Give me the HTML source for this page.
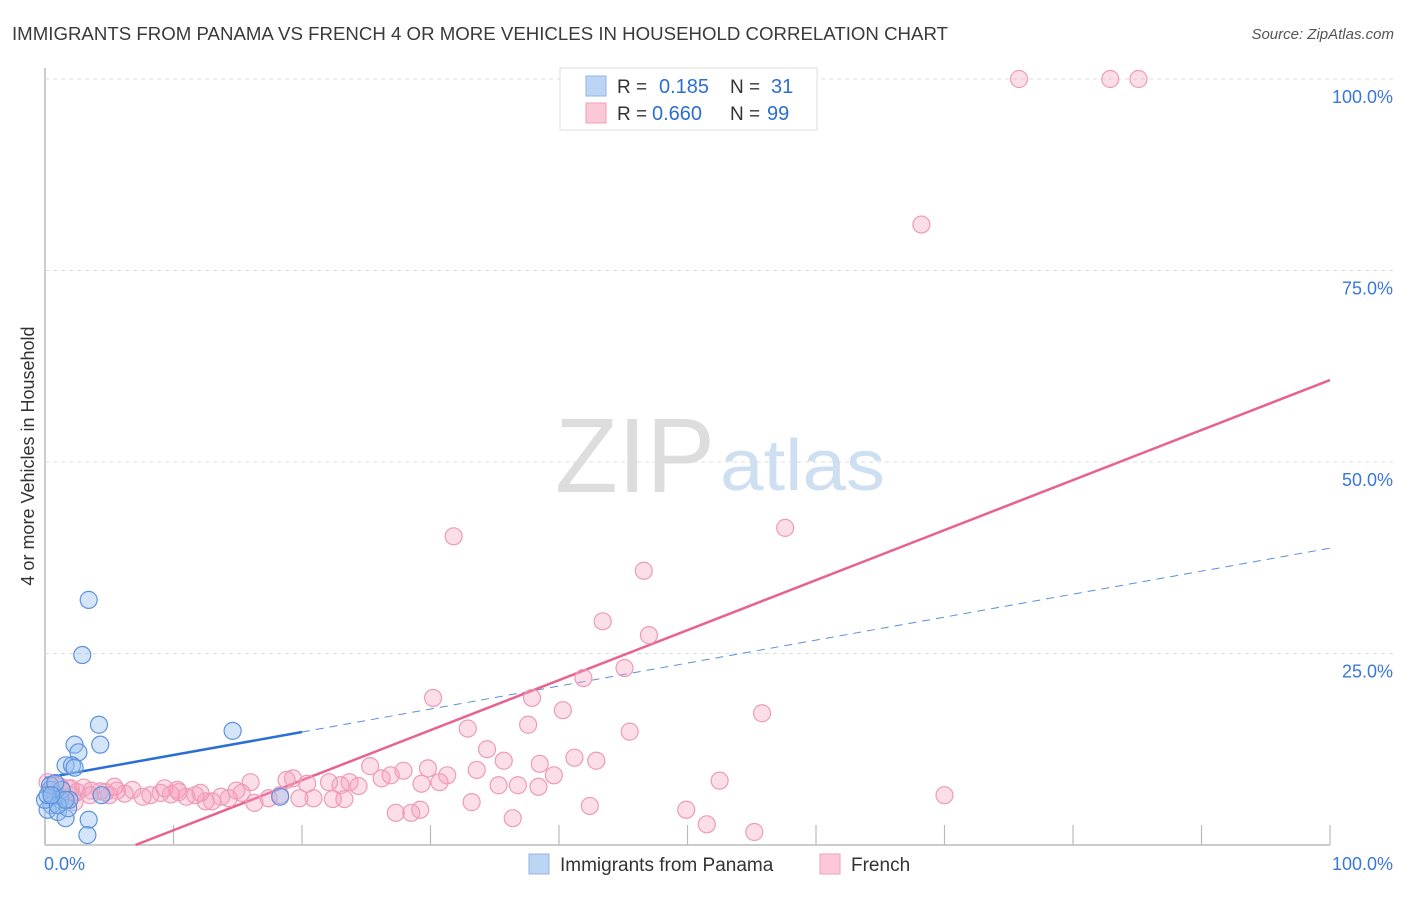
<!DOCTYPE html>
<html><head><meta charset="utf-8"><style>
body{margin:0;background:#fff;font-family:"Liberation Sans",sans-serif;}
svg text{font-family:"Liberation Sans",sans-serif;}
</style></head><body>
<svg id="chart" width="1406" height="892" xmlns="http://www.w3.org/2000/svg">
<text x="12" y="40" font-size="18.5" fill="#3a3a3a" textLength="936" lengthAdjust="spacingAndGlyphs">IMMIGRANTS FROM PANAMA VS FRENCH 4 OR MORE VEHICLES IN HOUSEHOLD CORRELATION CHART</text>
<text x="1394" y="39" font-size="15" fill="#555" font-style="italic" text-anchor="end">Source: ZipAtlas.com</text>
<text transform="translate(34,456) rotate(-90)" font-size="18" fill="#333" text-anchor="middle">4 or more Vehicles in Household</text>
<g id="grid"></g>
<text x="715" y="492" font-size="106" fill="#ddd" font-family="Liberation Serif" text-anchor="end" textLength="160" lengthAdjust="spacingAndGlyphs">ZIP</text>
<text x="720" y="490" font-size="72" fill="#cfdff2" textLength="165" lengthAdjust="spacingAndGlyphs">atlas</text>
<g id="lines"></g>
<g id="pts"></g>
<g>
<rect x="560" y="68" width="257" height="62" fill="#fff" stroke="#ddd"/>
<rect x="586" y="76" width="20" height="20" fill="#bcd5f5" stroke="#8fb4e6"/>
<rect x="586" y="103" width="20" height="20" fill="#fbc8d8" stroke="#f0a0bb"/>
<text x="617" y="93" font-size="19" fill="#333">R =</text>
<text x="659" y="93" font-size="20" fill="#2b6fd1">0.185</text>
<text x="730" y="93" font-size="19" fill="#333">N =</text>
<text x="771" y="93" font-size="20" fill="#2b6fd1">31</text>
<text x="617" y="120" font-size="19" fill="#333">R =</text>
<text x="652" y="120" font-size="20" fill="#2b6fd1">0.660</text>
<text x="730" y="120" font-size="19" fill="#333">N =</text>
<text x="767" y="120" font-size="20" fill="#2b6fd1">99</text>
</g>
<g>
<rect x="529" y="854" width="20" height="20" fill="#bcd5f5" stroke="#8fb4e6"/>
<text x="560" y="871" font-size="19" fill="#333">Immigrants from Panama</text>
<rect x="820" y="854" width="20" height="20" fill="#fbc8d8" stroke="#f0a0bb"/>
<text x="851" y="871" font-size="19" fill="#333">French</text>
</g>
</svg>
<script>
const xTicks=[0,10,20,30,40,50,60,70,80,90,100];
const yTicks=[25,50,75,100];
const yTickLabels=["25.0%","50.0%","75.0%","100.0%"];
const xEndLabels=["0.0%","100.0%"];
const panamaX=[3.4,2.9,4.2,4.3,2.3,2.6,1.6,2.1,2.3,14.6,0.4,0.8,1.2,0.5,0.2,1.0,1.6,3.4,3.3,18.3,4.4,1.8,0.0,0.4,1.3,1.9,0.8,0.2,1.0,1.6,0.5];
const panamaY=[32.0,24.8,15.7,13.1,13.1,12.1,10.4,10.4,10.1,14.9,7.2,6.5,5.9,5.2,4.6,4.3,3.5,3.3,1.3,6.3,6.5,4.8,5.9,7.8,7.2,5.9,8.1,6.5,5.2,5.9,6.5];
const frenchX=[75.8,82.9,85.1,68.2,31.8,57.6,46.6,43.4,47.0,45.1,41.9,30.2,37.9,37.6,40.3,32.9,45.5,55.8,34.4,35.7,41.2,42.9,38.5,25.3,27.9,29.8,31.3,33.6,39.6,52.5,70.0,35.3,36.8,38.4,29.3,30.7,23.7,23.0,22.1,19.3,18.8,16.0,20.4,20.9,22.4,23.3,24.4,26.2,26.9,29.2,27.3,28.5,33.2,36.4,42.4,49.9,51.5,55.2,19.8,18.3,17.4,16.3,15.3,14.3,13.7,13.0,12.5,11.7,11.0,10.4,9.8,9.0,8.2,7.6,6.8,6.2,5.6,5.0,4.3,3.6,3.0,2.5,1.8,1.2,0.8,0.2,0.5,1.0,1.6,2.1,2.3,3.5,4.7,5.4,9.3,12.1,14.9,10.3,2.0];
const frenchY=[100,100,100,81.0,40.3,41.4,35.8,29.2,27.4,23.1,21.8,19.2,19.2,15.7,17.6,15.2,14.8,17.2,12.5,11.0,11.4,11.0,10.6,10.3,9.7,10.0,9.1,9.8,9.1,8.4,6.5,7.8,7.8,7.6,8.0,8.2,8.2,7.8,8.2,8.7,8.5,8.2,8.0,6.1,6.0,6.0,7.7,8.7,9.1,4.6,4.2,4.2,5.6,3.5,5.1,4.6,2.7,1.7,6.1,6.5,6.1,5.5,6.8,6.1,6.3,5.7,5.7,6.5,6.3,6.9,6.6,6.8,6.5,6.3,7.2,6.7,7.1,6.5,7.0,7.1,7.5,6.9,7.4,7.6,7.8,8.2,7.2,6.5,5.9,6.5,5.6,6.5,6.9,7.6,7.4,6.8,7.1,7.2,7.4];
const panamaTrend=[8.75,0.30];
const frenchTrend=[-4.6,0.653];
const NS="http://www.w3.org/2000/svg";
function sx(v){return 45+v*12.85;}
function sy(v){return 845-v*7.66;}
function mk(tag,attrs,parent){const e=document.createElementNS(NS,tag);for(const k in attrs)e.setAttribute(k,attrs[k]);parent.appendChild(e);return e;}
const grid=document.getElementById('grid');
mk('line',{x1:45,y1:68,x2:45,y2:845,stroke:'#bbb','stroke-width':1.5},grid);
mk('line',{x1:45,y1:845,x2:1330,y2:845,stroke:'#bbb','stroke-width':1.5},grid);
yTicks.forEach((t,i)=>{
 const l=mk('line',{x1:45,y1:sy(t),x2:1394,y2:sy(t),stroke:'#ddd','stroke-dasharray':'4,4'},grid);
 
 
 const tx=mk('text',{x:1393,y:sy(t)+24,'font-size':18,fill:'#3a78d8','text-anchor':'end'},grid);
 tx.textContent=yTickLabels[i];
 
 
});
xTicks.forEach(t=>{
 const l=mk('line',{x1:sx(t),y1:825,x2:sx(t),y2:845,stroke:'#bbb','stroke-width':1.2},grid);
 
 
});
[[0,'start',44],[100,'end',1393]].forEach((a,i)=>{
 const tx=mk('text',{x:a[2],y:870,'font-size':18,fill:'#3a78d8','text-anchor':a[1]},grid);
 tx.textContent=xEndLabels[i];
 
 
});
const lines=document.getElementById('lines');
let l=mk('line',{x1:sx(0),y1:sy(panamaTrend[0]),x2:sx(20),y2:sy(panamaTrend[0]+20*panamaTrend[1]),stroke:'#2a6fd6','stroke-width':2.5},lines);


l=mk('line',{x1:sx(20),y1:sy(panamaTrend[0]+20*panamaTrend[1]),x2:sx(100),y2:sy(panamaTrend[0]+100*panamaTrend[1]),stroke:'#5b8fdc','stroke-width':1,'stroke-dasharray':'8,6'},lines);


const fx0=-frenchTrend[0]/frenchTrend[1];
l=mk('line',{x1:sx(fx0),y1:sy(0),x2:sx(100),y2:sy(frenchTrend[0]+100*frenchTrend[1]),stroke:'#e8628f','stroke-width':2.5},lines);


const pts=document.getElementById('pts');
frenchX.forEach((x,i)=>{
 const c=mk('circle',{cx:sx(x),cy:sy(frenchY[i]),r:8.5,fill:'rgba(246,160,190,0.35)',stroke:'#ee9ab8','stroke-width':1.2},pts);
 
 
});
panamaX.forEach((x,i)=>{
 const c=mk('circle',{cx:sx(x),cy:sy(panamaY[i]),r:8.5,fill:'rgba(150,190,240,0.4)',stroke:'#5d93dc','stroke-width':1.2},pts);
 
 
});
</script>
</body></html>
